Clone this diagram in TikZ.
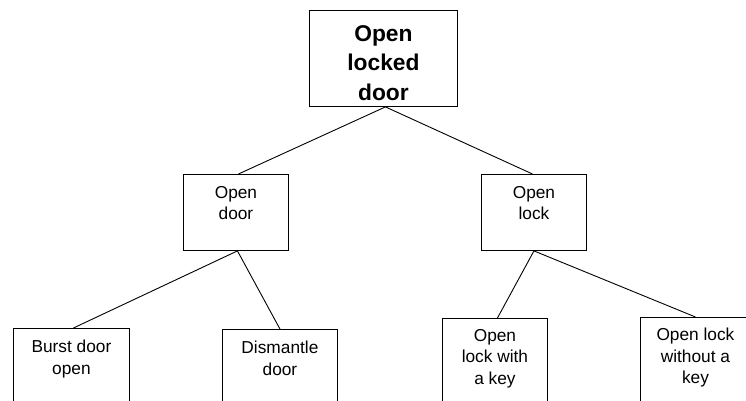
\documentclass[tikz,border=0pt]{standalone}
\usepackage{fontspec}
\setmainfont{Liberation Sans}
\begin{document}
\begin{tikzpicture}[x=1pt,y=-1pt,
  box/.style={draw=black, line width=0.9pt, inner sep=0pt, anchor=north west},
  txt/.style={anchor=north, align=center, inner sep=0pt,
              font=\fontsize{17.3}{21.5}\selectfont},
  toptxt/.style={anchor=north, align=center, inner sep=0pt,
              font=\fontsize{22.8}{29.5}\selectfont\bfseries},
  link/.style={draw=black, line width=0.9pt}]
\useasboundingbox (0,0) rectangle (746,401);
\clip (0,0) rectangle (746,401);

% goal
\node[box, minimum width=148pt, minimum height=96pt] (top) at (309,10) {};
\node[toptxt] (toplbl) at ([yshift=-15pt]top.north) {Open\\locked\\door};

% sub-goals
\node[box, minimum width=105pt, minimum height=76pt] (opendoor) at (183,174) {};
\node[txt] (opendoorlbl) at ([yshift=-12pt]opendoor.north) {Open\\door};
\node[box, minimum width=105pt, minimum height=76pt] (openlock) at (481,174) {};
\node[txt] (openlocklbl) at ([yshift=-12pt]openlock.north) {Open\\lock};

% leaves
\node[box, minimum width=116pt, minimum height=100pt] (burst) at (13,328) {};
\node[txt] (burstlbl) at ([yshift=-12pt]burst.north) {Burst door\\open};
\node[box, minimum width=115pt, minimum height=100pt] (dismantle) at (222,329) {};
\node[txt] (dismantlelbl) at ([yshift=-12pt]dismantle.north) {Dismantle\\door};
\node[box, minimum width=105pt, minimum height=100pt] (withkey) at (442,318) {};
\node[txt] (withkeylbl) at ([yshift=-11pt]withkey.north) {Open\\lock with\\a key};
\node[box, minimum width=110pt, minimum height=100pt] (withoutkey) at (640,317) {};
\node[txt] (withoutkeylbl) at ([yshift=-11pt]withoutkey.north) {Open lock\\without a\\key};

% connectors
\draw[link] ([xshift=2pt]top.south) -- ([xshift=2.5pt]opendoor.north);
\draw[link] ([xshift=2pt]top.south) -- ([xshift=-1.5pt]openlock.north);
\draw[link] ([xshift=1.5pt]opendoor.south) -- ([xshift=2pt]burst.north);
\draw[link] ([xshift=1.5pt]opendoor.south) -- (dismantle.north);
\draw[link] (openlock.south) -- ([xshift=2.5pt]withkey.north);
\draw[link] (openlock.south) -- (withoutkey.north);
\end{tikzpicture}
\end{document}
